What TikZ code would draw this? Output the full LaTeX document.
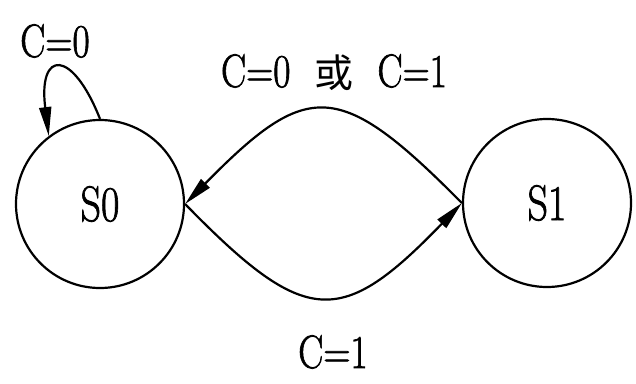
\documentclass[tikz,border=0pt]{standalone}
\usepackage{fontspec}
\newfontfamily\cjk{Noto Sans CJK SC}
\newfontfamily\heavy{Latin Modern Roman}[BoldFont={Latin Modern Roman},BoldFeatures={FakeBold=1.6}]
\usetikzlibrary{arrows.meta}
\newcommand{\cond}[1]{\scalebox{0.8}[1]{\heavy\bfseries #1}}
\begin{document}
\begin{tikzpicture}[x=1pt,y=-1pt,
  state/.style={circle,draw,line width=2.2pt,minimum size=168pt,inner sep=0pt,font=\fontsize{50}{50}\selectfont},
  lbl/.style={anchor=base,inner sep=0pt,font=\fontsize{47}{47}\selectfont},
  edge/.style={line width=2.2pt,-{Triangle[length=29pt,width=12pt]}}]
\useasboundingbox (0,0) rectangle (636,383);
\node[state] (S0) at (100,204) {\cond{S0}};
\node[state] (S1) at (547,203) {\cond{S1}};
\node[lbl] (l0) at (55,57) {\cond{C=0}};
\node[lbl] (l1) at (334,87) {\cond{C=0}\hspace{24pt}{\cjk\fontsize{39}{39}\selectfont 或}\hspace{24pt}\cond{C=1}};
\node[lbl] (l2) at (333,368) {\cond{C=1}};
\draw[edge] (S0.90) .. controls (72,48) and (38,50) .. (S0.127);
\draw[edge] (S1.west) .. controls (339,79) and (308,79) .. (S0.east);
\draw[edge] (S0.east) .. controls (306,328) and (341,328) .. (S1.west);
\end{tikzpicture}
\end{document}
